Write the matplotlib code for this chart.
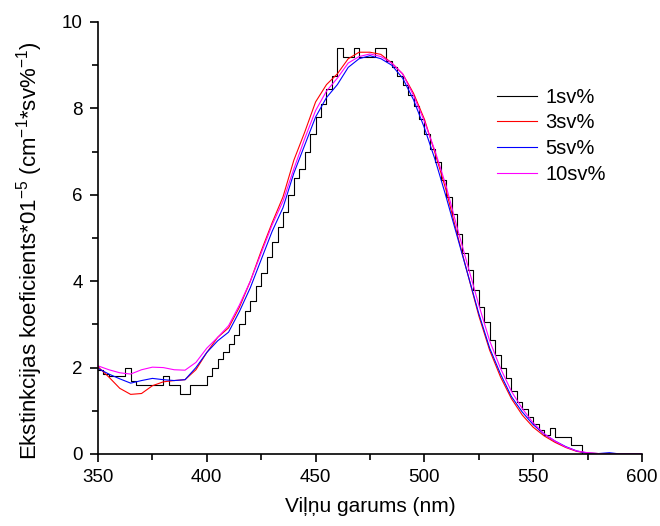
import numpy as np
import matplotlib
matplotlib.use("Agg")
import matplotlib.pyplot as plt
from matplotlib.ticker import MultipleLocator

plt.rcParams['font.family'] = ['Liberation Sans', 'DejaVu Sans']
plt.rcParams['mathtext.fontset'] = 'custom'
plt.rcParams['mathtext.rm'] = 'Liberation Sans'
plt.rcParams['mathtext.it'] = 'Liberation Sans:italic'

# Wavelength grids (nm)
wl_5 = np.arange(350, 601, 5)
wl_black = np.arange(350, 600.1, 2.5)

# Extinction coefficients for 3, 5 and 10 wt% samples (5 nm step)
ext_3 = [2.02, 1.78, 1.52, 1.38, 1.40, 1.58, 1.67, 1.70, 1.72, 1.95,
         2.35, 2.70, 2.92, 3.40, 4.00, 4.70, 5.35, 5.95, 6.80, 7.45,
         8.15, 8.55, 8.80, 9.15, 9.30, 9.30, 9.25, 9.05, 8.80, 8.35,
         7.75, 6.95, 6.10, 5.10, 4.15, 3.20, 2.40, 1.78, 1.28, 0.90,
         0.62, 0.42, 0.27, 0.15, 0.06, 0.02, 0.01, 0.00, 0.00, 0.00, 0.00]
ext_5 = [1.98, 1.85, 1.74, 1.64, 1.70, 1.75, 1.72, 1.70, 1.72, 2.00,
         2.35, 2.62, 2.82, 3.30, 3.85, 4.50, 5.15, 5.70, 6.50, 7.15,
         7.80, 8.25, 8.55, 8.95, 9.15, 9.22, 9.15, 9.00, 8.70, 8.20,
         7.55, 6.80, 5.95, 5.05, 4.15, 3.25, 2.45, 1.85, 1.33, 0.97,
         0.68, 0.46, 0.30, 0.17, 0.07, 0.02, 0.01, 0.03, 0.00, 0.00, 0.00]
ext_10 = [2.04, 1.95, 1.88, 1.85, 1.95, 2.01, 2.00, 1.95, 1.94, 2.12,
          2.45, 2.70, 2.97, 3.45, 4.00, 4.65, 5.30, 5.85, 6.60, 7.30,
          7.95, 8.40, 8.70, 9.05, 9.20, 9.26, 9.20, 9.05, 8.80, 8.30,
          7.70, 7.00, 6.20, 5.25, 4.35, 3.45, 2.62, 1.98, 1.45, 1.05,
          0.72, 0.47, 0.30, 0.16, 0.07, 0.03, 0.01, 0.00, 0.00, 0.00, 0.00]

# 1 wt% sample (2.5 nm step, coarse instrument resolution)
ext_1 = [1.95, 1.85, 1.80, 1.80, 1.80, 2.00, 1.70, 1.60, 1.60, 1.60,
         1.60, 1.60, 1.80, 1.60, 1.60, 1.40, 1.40, 1.60, 1.60, 1.60,
         1.80, 2.00, 2.20, 2.35, 2.55, 2.75, 3.00, 3.30, 3.55, 3.90,
         4.20, 4.55, 4.90, 5.25, 5.60, 6.00, 6.40, 6.60, 7.00, 7.40,
         7.80, 8.10, 8.45, 8.75, 9.40, 9.18, 9.18, 9.40, 9.18, 9.18,
         9.18, 9.40, 9.40, 9.10, 8.95, 8.75, 8.55, 8.30, 8.05, 7.75,
         7.40, 7.05, 6.75, 6.35, 5.95, 5.55, 5.10, 4.65, 4.25, 3.80,
         3.40, 3.05, 2.65, 2.30, 2.00, 1.75, 1.45, 1.20, 1.05, 0.85,
         0.70, 0.55, 0.45, 0.60, 0.40, 0.40, 0.40, 0.20, 0.20, 0.00,
         0.00, 0.00, 0.00, 0.00, 0.00, 0.00, 0.00, 0.00, 0.00, 0.00,
         0.00]

labels = ['1sv%', '3sv%', '5sv%', '10sv%']
colors = ['#000000', '#ff0000', '#0000ff', '#ff00ff']

fig = plt.figure(figsize=(6.6, 5.26), dpi=100)
ax = fig.add_axes([0.1485, 0.1369, 0.8242, 0.8213])

ax.plot(wl_black, ext_1, color=colors[0], lw=0.8, drawstyle='steps-post', label=labels[0])
ax.plot(wl_5, ext_3, color=colors[1], lw=0.8, label=labels[1])
ax.plot(wl_5, ext_5, color=colors[2], lw=0.8, label=labels[2])
ax.plot(wl_5, ext_10, color=colors[3], lw=0.8, label=labels[3])

ax.set_xlim(350, 600)
ax.set_ylim(0, 10)
ax.xaxis.set_major_locator(MultipleLocator(50))
ax.xaxis.set_minor_locator(MultipleLocator(25))
ax.yaxis.set_major_locator(MultipleLocator(2))
ax.yaxis.set_minor_locator(MultipleLocator(1))

for side in ('top', 'right'):
    ax.spines[side].set_visible(False)
for side in ('left', 'bottom'):
    ax.spines[side].set_linewidth(1.2)

ax.tick_params(which='major', direction='out', length=6, width=1.2, labelsize=13.5, pad=5)
ax.tick_params(which='minor', direction='out', length=4, width=1.2)

ax.set_xlabel('Viļņu garums (nm)', fontsize=15, labelpad=8)
ax.set_ylabel(r'Ekstinkcijas koeficients*01$^{\mathregular{-5}}$ (cm$^{\mathregular{-1}}$*sv%$^{\mathregular{-1}}$)',
              fontsize=16)
ax.yaxis.set_label_coords(-0.097, 0.47)

leg = ax.legend(loc='upper left', bbox_to_anchor=(0.733, 0.848), frameon=False,
                fontsize=14.5, handlelength=2.0, handletextpad=0.4, labelspacing=0.33,
                borderpad=0, borderaxespad=0)

fig.savefig('out.png', dpi=100)
